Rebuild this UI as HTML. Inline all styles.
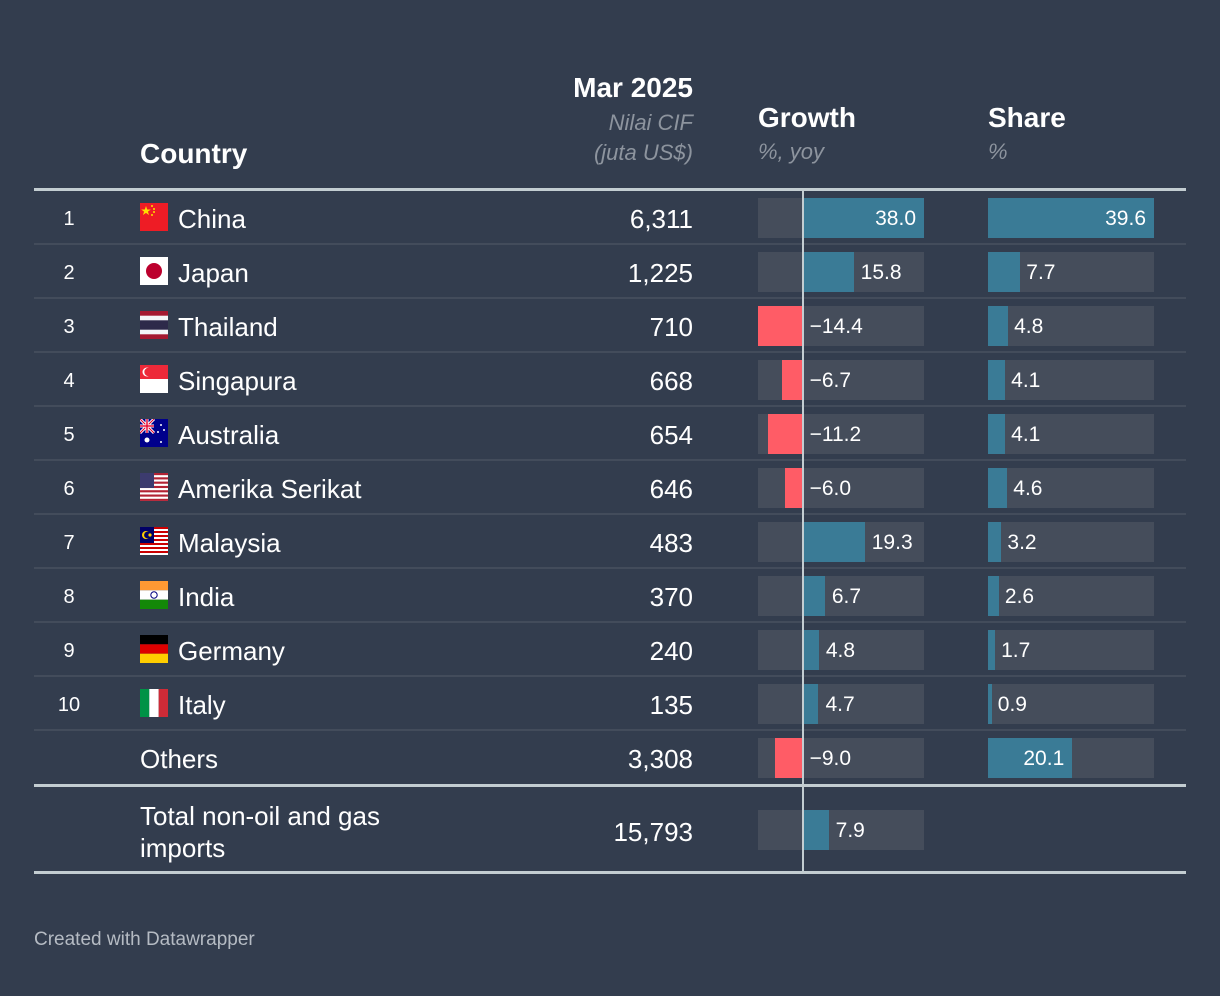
<!DOCTYPE html>
<html><head><meta charset="utf-8"><style>
body{margin:0;background:#333d4e;font-family:"Liberation Sans",sans-serif;color:#fff;}
#root{position:relative;width:1220px;height:996px;overflow:hidden;}
.abs{position:absolute;}
.hd{font-weight:bold;font-size:28px;}
.sub{font-style:italic;font-size:22px;color:#8d949e;}
.rank{font-size:20px;text-align:center;width:70px;left:34px;}
.cn{font-size:26px;}
.num{font-size:26px;text-align:right;width:200px;left:493px;}
.lbl{font-size:21px;}
</style></head><body>
<div id="root">
<div class="abs hd" style="left:140px;top:138px">Country</div>
<div class="abs hd" style="right:527px;top:72px;text-align:right">Mar 2025</div>
<div class="abs sub" style="right:527px;top:108px;text-align:right;line-height:30px">Nilai CIF<br>(juta US$)</div>
<div class="abs hd" style="left:758px;top:102px">Growth</div>
<div class="abs sub" style="left:758px;top:139px">%, yoy</div>
<div class="abs hd" style="left:988px;top:102px">Share</div>
<div class="abs sub" style="left:988px;top:139px">%</div>
<div class="abs" style="left:34px;top:188px;width:1152px;height:3px;background:#c3cdd1"></div>
<div class="abs" style="left:34px;top:929px;font-size:19px;color:#b5bbc3">Created with Datawrapper</div>
</div>
<script>
const countries=["China","Japan","Thailand","Singapura","Australia","Amerika Serikat","Malaysia","India","Germany","Italy","Others"];
const values=["6,311","1,225","710","668","654","646","483","370","240","135","3,308"];
const growth=[38.0,15.8,-14.4,-6.7,-11.2,-6.0,19.3,6.7,4.8,4.7,-9.0];
const share=[39.6,7.7,4.8,4.1,4.1,4.6,3.2,2.6,1.7,0.9,20.1];
const totalLabel="Total non-oil and gas imports";
const totalValue="15,793";
const totalGrowth=7.9;
const flags=["cn","jp","th","sg","au","us","my","in","de","it",""];

const root=document.getElementById('root');
const gMin=Math.min(...growth,totalGrowth,0),gMax=Math.max(...growth,totalGrowth);
const gx=v=>758+(v-gMin)/(gMax-gMin)*166;
const sMax=Math.max(...share);
const sx=v=>988+v/sMax*166;
function fmt(v){return (v<0?"\u2212":"")+Math.abs(v).toFixed(1);}
function div(cls,style,html){const d=document.createElement('div');d.className='abs '+cls;d.style.cssText=style;if(html!==undefined)d.innerHTML=html;root.appendChild(d);return d;}
function flagSvg(f){
 const s='<svg width="28" height="28" viewBox="0 0 28 28">';
 let b='';
 if(f=='cn')b='<rect width="28" height="28" fill="#ee1c25"/><polygon points="6,3 7.2,6.5 10.8,6.5 7.9,8.6 9,12 6,9.9 3,12 4.1,8.6 1.2,6.5 4.8,6.5" fill="#ffde00"/><circle cx="12" cy="3" r="1" fill="#ffde00"/><circle cx="14" cy="6" r="1" fill="#ffde00"/><circle cx="14" cy="9" r="1" fill="#ffde00"/><circle cx="12" cy="12" r="1" fill="#ffde00"/>';
 if(f=='jp')b='<rect width="28" height="28" fill="#fff"/><circle cx="14" cy="14" r="8" fill="#bc002d"/>';
 if(f=='th')b='<rect width="28" height="28" fill="#a51931"/><rect y="4.7" width="28" height="18.6" fill="#f4f5f8"/><rect y="9.3" width="28" height="9.4" fill="#2d2a4a"/>';
 if(f=='sg')b='<rect width="28" height="14" fill="#ed2939"/><rect y="14" width="28" height="14" fill="#fff"/><circle cx="7" cy="7" r="4.5" fill="#fff"/><circle cx="8.5" cy="7" r="4.2" fill="#ed2939"/>';
 if(f=='au')b='<rect width="28" height="28" fill="#00008b"/><path d="M0 0L14 14M14 0L0 14" stroke="#fff" stroke-width="3"/><path d="M0 0L14 14M14 0L0 14" stroke="#e4002b" stroke-width="1"/><rect x="5.5" width="3" height="14" fill="#fff"/><rect y="5.5" width="14" height="3" fill="#fff"/><rect x="6.3" width="1.4" height="14" fill="#e4002b"/><rect y="6.3" width="14" height="1.4" fill="#e4002b"/><circle cx="7" cy="21" r="2.5" fill="#fff"/><circle cx="21" cy="6" r="1" fill="#fff"/><circle cx="24" cy="11" r="1" fill="#fff"/><circle cx="18" cy="13" r="1" fill="#fff"/><circle cx="21" cy="23" r="1" fill="#fff"/>';
 if(f=='us'){b='<rect width="28" height="28" fill="#fff"/>';for(let i=0;i<7;i++)b+='<rect y="'+(i*4.3)+'" width="28" height="2.15" fill="#b22234"/>';b+='<rect width="14" height="15" fill="#3c3b6e"/>';}
 if(f=='my'){b='<rect width="28" height="28" fill="#fff"/>';for(let i=0;i<7;i++)b+='<rect y="'+(i*4)+'" width="28" height="2" fill="#cc0001"/>';b+='<rect width="14" height="16" fill="#010066"/><circle cx="6" cy="8" r="4" fill="#fc0"/><circle cx="7.5" cy="8" r="3.4" fill="#010066"/><circle cx="10" cy="8" r="1.6" fill="#fc0"/>';}
 if(f=='in')b='<rect width="28" height="9.3" fill="#ff9933"/><rect y="9.3" width="28" height="9.4" fill="#fff"/><rect y="18.7" width="28" height="9.3" fill="#138808"/><circle cx="14" cy="14" r="3.2" fill="none" stroke="#000080" stroke-width="1"/>';
 if(f=='de')b='<rect width="28" height="9.3" fill="#000"/><rect y="9.3" width="28" height="9.4" fill="#dd0000"/><rect y="18.7" width="28" height="9.3" fill="#ffce00"/>';
 if(f=='it')b='<rect width="9.3" height="28" fill="#009246"/><rect x="9.3" width="9.4" height="28" fill="#fff"/><rect x="18.7" width="9.3" height="28" fill="#ce2b37"/>';
 return s+b+'</svg>';
}
function growthBar(v,top){
 const track=div('','left:758px;top:'+(top+7)+'px;width:166px;height:40px;background:#454d5b');
 
 
 const x0=gx(0),x1=gx(v);
 const bar=div('','left:'+Math.min(x0,x1)+'px;top:'+(top+7)+'px;width:'+Math.abs(x1-x0)+'px;height:40px;background:'+(v<0?'#ff5c66':'#3a7b96'));
 
 
 let l;
 if(v>0&&x1-x0>90) l=div('lbl','left:'+(x1-80)+'px;width:72px;text-align:right;top:'+(top+16)+'px',fmt(v));
 else if(v>0) l=div('lbl','left:'+(x1+7)+'px;top:'+(top+16)+'px',fmt(v));
 else l=div('lbl','left:'+(x0+6)+'px;top:'+(top+16)+'px',fmt(v));
 
 
}
const RH=54;
for(let i=0;i<countries.length;i++){
 const top=191+i*RH;
 if(i<countries.length-1){const sep=div('','left:34px;top:'+(top+RH-2)+'px;width:1152px;height:2px;background:#434c5b');}
 if(flags[i]){
  const r=div('rank','top:'+(top+17)+'px',String(i+1));
  
  
  const f=div('','left:140px;top:'+(top+12)+'px;width:28px;height:28px',flagSvg(flags[i]));
  
  
 }
 const c=div('cn','left:'+(flags[i]?178:140)+'px;top:'+(top+13)+'px',countries[i]);
 
 
 const n=div('num','top:'+(top+13)+'px',values[i]);
 
 
 growthBar(growth[i],top);
 const st=div('','left:988px;top:'+(top+7)+'px;width:166px;height:40px;background:#454d5b');
 
 
 const w=sx(share[i])-988;
 const sb=div('','left:988px;top:'+(top+7)+'px;width:'+w+'px;height:40px;background:#3a7b96');
 
 
 let sl;
 if(w>60) sl=div('lbl','left:'+(988+w-80)+'px;width:72px;text-align:right;top:'+(top+16)+'px',share[i].toFixed(1));
 else sl=div('lbl','left:'+(988+w+6)+'px;top:'+(top+16)+'px',share[i].toFixed(1));
 
 
}
const r1=div('','left:34px;top:784px;width:1152px;height:3px;background:#c3cdd1');


const tt=div('cn','left:140px;top:800px;line-height:32px;width:300px',totalLabel);


const tv=div('num','top:817px',totalValue);


growthBar(totalGrowth,803);
const r2=div('','left:34px;top:871px;width:1152px;height:3px;background:#c3cdd1');


const zl=div('','left:'+(gx(0)-1.5)+'px;top:191px;width:2px;height:680px;background:#c3cdd1');


</script>
</body></html>
